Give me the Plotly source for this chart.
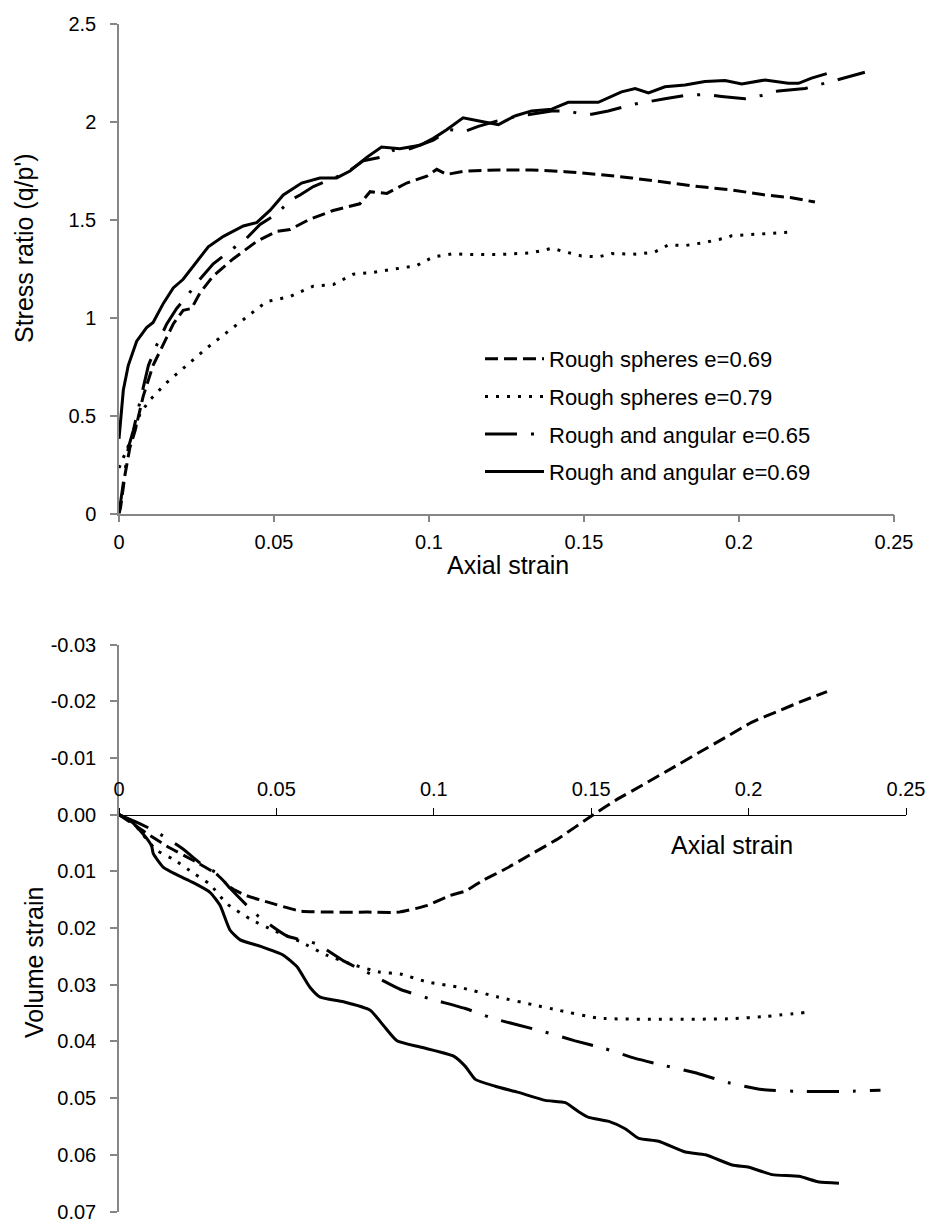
import plotly.graph_objects as go

W, H = 930, 1224

# ---------------- Top panel: stress ratio vs axial strain ----------------
names = ["Rough spheres e=0.69", "Rough spheres e=0.79",
         "Rough and angular e=0.65", "Rough and angular e=0.69"]

sr_rs069_x = [0, 0.0005, 0.0019, 0.0035, 0.0052, 0.0078, 0.011, 0.0143, 0.0175, 0.0207, 0.0234, 0.0261,
              0.0304, 0.0369, 0.0444, 0.0509, 0.0552, 0.0616, 0.0691, 0.0777, 0.081, 0.0864, 0.0928,
              0.0993, 0.1025, 0.1057, 0.1116, 0.1224, 0.1331, 0.1439, 0.1546, 0.1654, 0.1761, 0.1869,
              0.1976, 0.2084, 0.217, 0.2245]
sr_rs069_y = [0, 0.03, 0.195, 0.335, 0.423, 0.598, 0.756, 0.861, 0.967, 1.037, 1.046, 1.125,
              1.212, 1.30, 1.388, 1.44, 1.449, 1.502, 1.546, 1.58, 1.642, 1.633, 1.686,
              1.721, 1.756, 1.73, 1.747, 1.753, 1.753, 1.744, 1.73, 1.712, 1.689, 1.668,
              1.651, 1.625, 1.611, 1.589]

sr_rs079_x = [0, 0.0025, 0.0046, 0.0068, 0.01, 0.0154, 0.0218, 0.0283, 0.0347, 0.0412, 0.0476, 0.0552,
              0.0627, 0.0691, 0.0756, 0.082, 0.0885, 0.096, 0.1014, 0.1078, 0.1116, 0.1224, 0.1331,
              0.1396, 0.1439, 0.1492, 0.1546, 0.1589, 0.1675, 0.1729, 0.1772, 0.1826, 0.189, 0.1955,
              0.1976, 0.2084, 0.2181]
sr_rs079_y = [0.232, 0.326, 0.405, 0.51, 0.58, 0.668, 0.756, 0.844, 0.923, 1.002, 1.081, 1.107,
              1.16, 1.168, 1.221, 1.23, 1.247, 1.265, 1.309, 1.326, 1.322, 1.321, 1.33,
              1.353, 1.335, 1.314, 1.309, 1.326, 1.323, 1.335, 1.37, 1.367, 1.383, 1.405,
              1.417, 1.428, 1.437]

sr_ra065_x = [0, 0.0014, 0.003, 0.0046, 0.0068, 0.0095, 0.0122, 0.0154, 0.0186, 0.0218, 0.0261, 0.0304,
              0.0369, 0.0412, 0.0455, 0.0509, 0.0552, 0.0584, 0.0627, 0.0691, 0.0734, 0.0788, 0.0842,
              0.0885, 0.0939, 0.1014, 0.1068, 0.1116, 0.1159, 0.1256, 0.1331, 0.1396, 0.145, 0.1493,
              0.1525, 0.1578, 0.1665, 0.1708, 0.1761, 0.1826, 0.189, 0.1944, 0.2019, 0.2073, 0.2127,
              0.2213, 0.2267, 0.232, 0.2406]
sr_ra065_y = [0, 0.16, 0.335, 0.423, 0.58, 0.756, 0.861, 0.967, 1.046, 1.107, 1.195, 1.274,
              1.353, 1.405, 1.475, 1.528, 1.598, 1.625, 1.668, 1.712, 1.738, 1.80, 1.817,
              1.853, 1.861, 1.905, 1.958, 1.95, 1.975, 2.019, 2.037, 2.054, 2.054, 2.037,
              2.037, 2.054, 2.089, 2.102, 2.116, 2.133, 2.138, 2.128, 2.116, 2.133, 2.156,
              2.168, 2.191, 2.216, 2.251]

sr_ra069_x = [0, 0.0014, 0.003, 0.0057, 0.0089, 0.011, 0.0143, 0.0175, 0.0207, 0.024, 0.0288, 0.0337,
              0.0401, 0.0444, 0.0487, 0.053, 0.0589, 0.0648, 0.0702, 0.0745, 0.0799, 0.0847, 0.0906,
              0.0971, 0.1014, 0.1057, 0.111, 0.117, 0.1224, 0.1277, 0.1331, 0.1396, 0.1449, 0.1546,
              0.1621, 0.1665, 0.1708, 0.1761, 0.1826, 0.189, 0.1955, 0.2009, 0.2084, 0.2159, 0.2192,
              0.2234, 0.2283]
sr_ra069_y = [0.381, 0.63, 0.756, 0.879, 0.949, 0.975, 1.072, 1.151, 1.195, 1.265, 1.361, 1.414,
              1.467, 1.484, 1.546, 1.625, 1.686, 1.712, 1.712, 1.747, 1.817, 1.870, 1.861,
              1.879, 1.914, 1.958, 2.019, 2.0, 1.984, 2.028, 2.054, 2.063, 2.098, 2.098,
              2.151, 2.168, 2.146, 2.177, 2.186, 2.204, 2.209, 2.191, 2.212, 2.195, 2.195,
              2.221, 2.244]

# ---------------- Bottom panel: volume strain vs axial strain ----------------
vs_rs069_x = [0, 0.008, 0.015, 0.025, 0.031, 0.0353, 0.04, 0.047, 0.0575, 0.068, 0.079, 0.089, 0.098,
              0.105, 0.11, 0.1153, 0.1227, 0.1312, 0.1396, 0.1502, 0.1577, 0.1672, 0.1757, 0.1841,
              0.1926, 0.2011, 0.2096, 0.217, 0.2249]
vs_rs069_y = [0, 0.003, 0.0055, 0.0085, 0.0105, 0.0128, 0.0142, 0.0154, 0.017, 0.0172, 0.0172, 0.0172,
              0.016, 0.0143, 0.0135, 0.0117, 0.0096, 0.0069, 0.0042, 0.0002, -0.0025, -0.0055, -0.0082,
              -0.0109, -0.0136, -0.0163, -0.0183, -0.02, -0.0217]

vs_rs079_x = [0, 0.0045, 0.0077, 0.012, 0.0173, 0.0236, 0.0289, 0.0342, 0.0416, 0.049, 0.0575, 0.066,
              0.0745, 0.083, 0.0893, 0.0978, 0.1084, 0.1206, 0.1312, 0.1396, 0.1523, 0.1736, 0.1948,
              0.2053, 0.2181]
vs_rs079_y = [0, 0.0015, 0.0036, 0.0063, 0.0079, 0.0103, 0.0123, 0.0157, 0.0184, 0.0204, 0.0224, 0.0248,
              0.0265, 0.0278, 0.0281, 0.0295, 0.0305, 0.0322, 0.0335, 0.0345, 0.0359, 0.0361, 0.036,
              0.0356, 0.0349]

vs_ra065_x = [0, 0.005, 0.0114, 0.0199, 0.0268, 0.031, 0.0353, 0.0438, 0.0533, 0.0628, 0.0713, 0.0798,
              0.0893, 0.0989, 0.11, 0.1185, 0.1344, 0.1449, 0.1545, 0.164, 0.1736, 0.1841, 0.1937,
              0.2043, 0.216, 0.2318, 0.2419]
vs_ra065_y = [0, 0.0012, 0.0029, 0.0059, 0.009, 0.0103, 0.013, 0.0177, 0.0214, 0.0228, 0.0258, 0.0281,
              0.0308, 0.0325, 0.0342, 0.0359, 0.0382, 0.0399, 0.0413, 0.043, 0.0443, 0.0457, 0.0473,
              0.0485, 0.0488, 0.0488, 0.0486]

vs_ra069_x = [0, 0.0045, 0.0088, 0.0104, 0.0109, 0.0141, 0.0183, 0.0236, 0.0289, 0.0321, 0.0353, 0.0385,
              0.0448, 0.0522, 0.0565, 0.0607, 0.0639, 0.0713, 0.0798, 0.084, 0.0883, 0.0957, 0.1063,
              0.11, 0.1132, 0.1195, 0.1269, 0.1354, 0.1418, 0.146, 0.1492, 0.1556, 0.1608, 0.1651,
              0.1714, 0.1799, 0.1863, 0.1948, 0.2001, 0.2075, 0.216, 0.2224, 0.2287]
vs_ra069_y = [0, 0.0015, 0.0042, 0.0056, 0.0069, 0.0093, 0.0106, 0.012, 0.0137, 0.016, 0.0204, 0.0221,
              0.0232, 0.0248, 0.0268, 0.0305, 0.0322, 0.033, 0.0345, 0.0372, 0.0399, 0.041, 0.0426,
              0.0444, 0.0467, 0.0479, 0.049, 0.0504, 0.0508, 0.0524, 0.0534, 0.0541, 0.0554, 0.0571,
              0.0576, 0.0595, 0.06, 0.0618, 0.0622, 0.0635, 0.0638, 0.0648, 0.065]

# ---------------- tick labels ----------------
top_x_ticks = [0, 0.05, 0.1, 0.15, 0.2, 0.25]
top_x_labels = ["0", "0.05", "0.1", "0.15", "0.2", "0.25"]
top_y_ticks = [0, 0.5, 1, 1.5, 2, 2.5]
top_y_labels = ["0", "0.5", "1", "1.5", "2", "2.5"]
bot_y_ticks = [-0.03, -0.02, -0.01, 0.0, 0.01, 0.02, 0.03, 0.04, 0.05, 0.06, 0.07]
bot_y_labels = ["-0.03", "-0.02", "-0.01", "0.00", "0.01", "0.02", "0.03", "0.04", "0.05", "0.06", "0.07"]

dashes = ["13px,6px", "3px,8px", "32px,14px,3px,14px", "solid"]

FONT = "Liberation Sans, Arial, sans-serif"
AX = "#868686"

fig = go.Figure()

top_sets = [(sr_rs069_x, sr_rs069_y), (sr_rs079_x, sr_rs079_y),
            (sr_ra065_x, sr_ra065_y), (sr_ra069_x, sr_ra069_y)]
for i, (xs, ys) in enumerate(top_sets):
    fig.add_trace(go.Scatter(x=xs, y=ys, mode="lines", name=names[i], legendgroup=str(i),
                             line=dict(color="black", width=3, dash=dashes[i]),
                             xaxis="x", yaxis="y"))

bot_sets = [(vs_rs069_x, vs_rs069_y), (vs_rs079_x, vs_rs079_y),
            (vs_ra065_x, vs_ra065_y), (vs_ra069_x, vs_ra069_y)]
for i, (xs, ys) in enumerate(bot_sets):
    fig.add_trace(go.Scatter(x=xs, y=ys, mode="lines", name=names[i], showlegend=False,
                             line=dict(color="black", width=3, dash=dashes[i], shape="spline", smoothing=0.5),
                             xaxis="x2", yaxis="y2"))

# pixel geometry -> paper fractions
def px(x):
    return x / W

def py(y):
    return 1 - y / H

top_dom_y = [py(513.5), py(23.5)]
bot_dom_y = [py(1211.5), py(644.5)]
zero_frac = bot_dom_y[0] + (bot_dom_y[1] - bot_dom_y[0]) * 0.07 / 0.10

common = dict(showgrid=False, zeroline=False, showline=True, ticks="outside", ticklen=7,
              tickfont=dict(size=20), ticklabeloverflow="allow")

fig.update_layout(
    width=W, height=H,
    margin=dict(l=0, r=0, t=0, b=0, pad=0, autoexpand=False),
    paper_bgcolor="white", plot_bgcolor="white",
    font=dict(family=FONT, color="black", size=20),
    xaxis=dict(domain=[px(119), px(894)], range=[0, 0.25], anchor="y",
               tickvals=top_x_ticks, ticktext=top_x_labels,
               linecolor=AX, linewidth=1.5, tickcolor=AX, tickwidth=1.5,
               ticklabelstandoff=3, **common),
    yaxis=dict(domain=top_dom_y, range=[0, 2.5], anchor="x",
               tickvals=top_y_ticks, ticktext=top_y_labels,
               linecolor=AX, linewidth=1.5, tickcolor=AX, tickwidth=1.5,
               ticklabelstandoff=10, **common),
    xaxis2=dict(domain=[px(119), px(906)], range=[0, 0.25], anchor="free", position=zero_frac,
                side="top", tickvals=top_x_ticks, ticktext=top_x_labels,
                linecolor="black", linewidth=1, tickcolor="black", tickwidth=1,
                ticklabelstandoff=4, **common),
    yaxis2=dict(domain=bot_dom_y, range=[0.07, -0.03], anchor="x2",
                tickvals=bot_y_ticks, ticktext=bot_y_labels,
                linecolor=AX, linewidth=1.5, tickcolor=AX, tickwidth=1.5,
                ticklabelstandoff=10, **common),
    legend=dict(x=px(480), y=py(338), xanchor="left", yanchor="top",
                bgcolor="rgba(0,0,0,0)", font=dict(size=22, family=FONT),
                itemwidth=59, tracegroupgap=6, traceorder="grouped"),
    annotations=[
        dict(text="Axial strain", x=px(508), y=py(565), xref="paper", yref="paper",
             showarrow=False, font=dict(size=25), xanchor="center", yanchor="middle"),
        dict(text="Stress ratio (q/p')", x=px(24), y=py(248), xref="paper", yref="paper",
             showarrow=False, font=dict(size=25), textangle=-90, xanchor="center", yanchor="middle"),
        dict(text="Axial strain", x=px(732), y=py(845), xref="paper", yref="paper",
             showarrow=False, font=dict(size=25), xanchor="center", yanchor="middle"),
        dict(text="Volume strain", x=px(34), y=py(963), xref="paper", yref="paper",
             showarrow=False, font=dict(size=25), textangle=-90, xanchor="center", yanchor="middle"),
    ],
)

fig.write_html("out.html", config={"displayModeBar": False},
               post_script="document.body.style.margin='0';")
